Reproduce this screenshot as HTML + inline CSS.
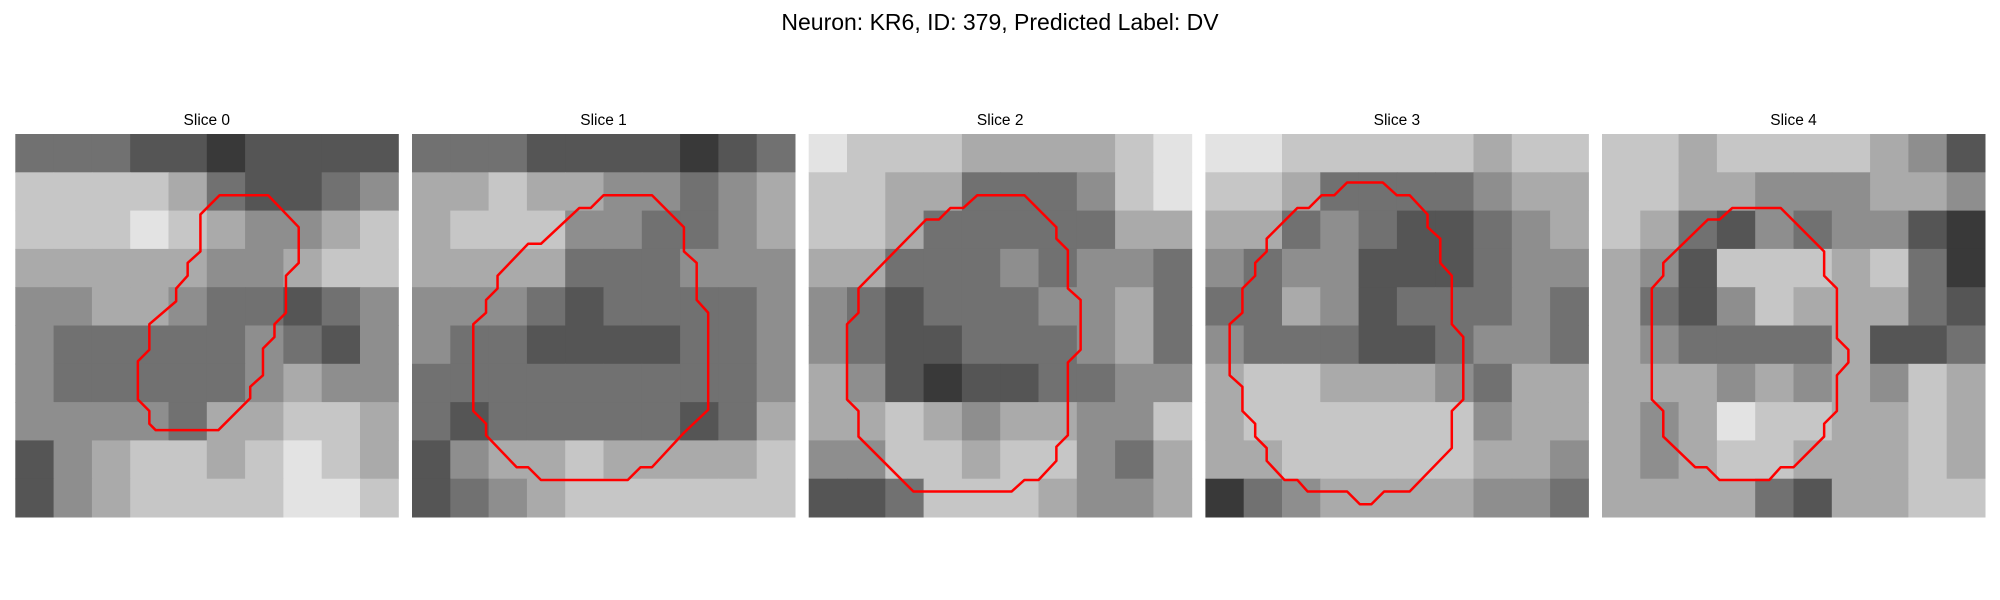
<!DOCTYPE html>
<html><head><meta charset="utf-8"><style>
html,body{margin:0;padding:0;background:#fff;width:2000px;height:600px;overflow:hidden}
svg text{font-family:"Liberation Sans","DejaVu Sans",sans-serif;fill:#000}
</style></head><body>
<svg id="fig" width="2000" height="600" xmlns="http://www.w3.org/2000/svg">
<text x="1000" y="30" text-anchor="middle" font-size="23">Neuron: KR6, ID: 379, Predicted Label: DV</text>
</svg>
<script>
// coarse intensity grids (0=black..9=white), 10x10 per slice
const slice0 = ["4443323333","7777643345","7778765567","6666655677","5566544345","5444445435","5444445655","5555466776","3567767876","3567777887"];
const slice1 = ["4443333234","6676655456","6777554456","6666444555","5554344445","5443333445","4444444445","4344444346","3566766667","3456777777"];
const slice2 = ["8777666678","7766444578","7764444466","6644454554","5434445564","5433444564","6532334455","6676566557","5577677546","3347776556"];
const slice3 = ["8877777677","7764444566","6645433456","5455333455","4465344454","5444334554","6776665466","6777777566","6677777665","2456666554"];
const slice4 = ["7767777653","7766555665","7643545532","6537776742","6435766643","6544446334","6665656576","6568776676","6567766676","6666436677"];
const grids = [slice0, slice1, slice2, slice3, slice4];
const titles = ["Slice 0","Slice 1","Slice 2","Slice 3","Slice 4"];
// contour vertices in image-pixel units (30x30 image)
const contour0 = [[16,4.8],[19.8,4.8],[22.2,7.3],[22.2,10.1],[21.2,11.1],[21.2,14],[20.3,14.9],[20.3,15.9],[19.4,16.8],[19.4,18.9],[18.4,19.8],[18.4,20.7],[15.9,23.2],[11,23.2],[10.5,22.7],[10.5,21.7],[9.6,20.8],[9.6,17.8],[10.5,16.9],[10.5,14.9],[12.6,13.1],[12.6,12.1],[13.5,11.1],[13.5,10.1],[14.5,9.2],[14.5,6.3]];
const contour1 = [[15,4.8],[18.8,4.8],[21.3,7.3],[21.3,9.2],[22.3,10.1],[22.3,13],[23.2,14],[23.2,21.6],[21.3,23.4],[18.8,26.1],[17.9,26.1],[16.9,27.1],[10.1,27.1],[9.1,26.1],[8.2,26.1],[5.8,23.6],[5.8,22.7],[4.8,21.7],[4.8,14.9],[5.8,14],[5.8,13],[6.7,12.1],[6.7,11.1],[9.1,8.6],[10.1,8.6],[13.1,5.8],[14,5.8]];
const contour2 = [[13.2,4.8],[16.9,4.8],[19.4,7.3],[19.4,8.2],[20.3,9.1],[20.3,12.1],[21.3,13],[21.3,16.9],[20.3,17.9],[20.3,23.6],[19.4,24.5],[19.4,25.6],[18,27.1],[16.9,27.1],[15.9,28],[8.2,28],[3.9,23.7],[3.9,21.7],[3,20.8],[3,14.9],[3.9,14],[3.9,12.1],[9.2,6.7],[10.2,6.7],[11.1,5.8],[12.1,5.8]];
const contour3 = [[11.1,3.8],[13.9,3.8],[15,4.8],[16,4.8],[17.4,6.3],[17.4,7.3],[18.4,8.2],[18.4,10.1],[19.3,11.1],[19.3,14.9],[20.2,15.9],[20.2,20.8],[19.3,21.7],[19.3,24.6],[16,28],[14,28],[13,29],[12.1,29],[11.1,28],[8,28],[7.2,27.1],[6.2,27.1],[4.8,25.6],[4.8,24.6],[3.9,23.7],[3.9,22.7],[2.9,21.7],[2.9,19.8],[1.9,18.9],[1.9,14.9],[2.9,14],[2.9,12.1],[3.9,11.1],[3.9,10.1],[4.8,9.2],[4.8,8.2],[7.2,5.8],[8.1,5.8],[9.1,4.8],[10.1,4.8]];
const contour4 = [[10.2,5.8],[14,5.8],[17.4,9.2],[17.4,11.1],[18.4,12.1],[18.4,16],[19.3,16.9],[19.3,17.9],[18.4,18.9],[18.4,21.7],[17.4,22.7],[17.4,23.7],[15,26.1],[14,26.1],[13.1,27.1],[9.2,27.1],[8.2,26.1],[7.3,26.1],[4.8,23.7],[4.8,21.7],[3.9,20.8],[3.9,12.1],[4.8,11.1],[4.8,10.1],[8.3,6.7],[9.2,6.7]];
const contours = [contour0, contour1, contour2, contour3, contour4];

const NS = "http://www.w3.org/2000/svg";
const svg = document.getElementById('fig');
const panelX = [15.3, 412, 808.7, 1205.4, 1602];
const panelY = 134, panelW = 383;
function sx(p, v){ return panelX[p] + v * panelW / 30; }
function sy(v){ return panelY + v * panelW / 30; }

grids.forEach((g, p) => {
  const grp = document.createElementNS(NS, 'g');
  
  
  svg.appendChild(grp);
  const t = document.createElementNS(NS, 'text');
  
  
  t.setAttribute('x', panelX[p] + panelW / 2);
  t.setAttribute('y', 125);
  t.setAttribute('text-anchor', 'middle');
  t.setAttribute('font-size', '15.5');
  t.textContent = titles[p];
  grp.appendChild(t);
  const n = g.length, cw = panelW / n;
  g.forEach((row, r) => {
    for (let c = 0; c < row.length; c++) {
      const v = +row[c];
      const gv = Math.round(v * 255 / 9);
      const rc = document.createElementNS(NS, 'rect');
      
      
      rc.setAttribute('x', panelX[p] + c * cw);
      rc.setAttribute('y', panelY + r * cw);
      rc.setAttribute('width', cw + 0.5);
      rc.setAttribute('height', cw + 0.5);
      rc.setAttribute('fill', `rgb(${gv},${gv},${gv})`);
      grp.appendChild(rc);
    }
  });
  const pl = document.createElementNS(NS, 'polygon');
  
  
  pl.setAttribute('points', contours[p].map(q => sx(p, q[0]) + ',' + sy(q[1])).join(' '));
  pl.setAttribute('fill', 'none');
  pl.setAttribute('stroke', '#ff0000');
  pl.setAttribute('stroke-width', '2.5');
  pl.setAttribute('stroke-linejoin', 'round');
  grp.appendChild(pl);
});
</script>
</body></html>
